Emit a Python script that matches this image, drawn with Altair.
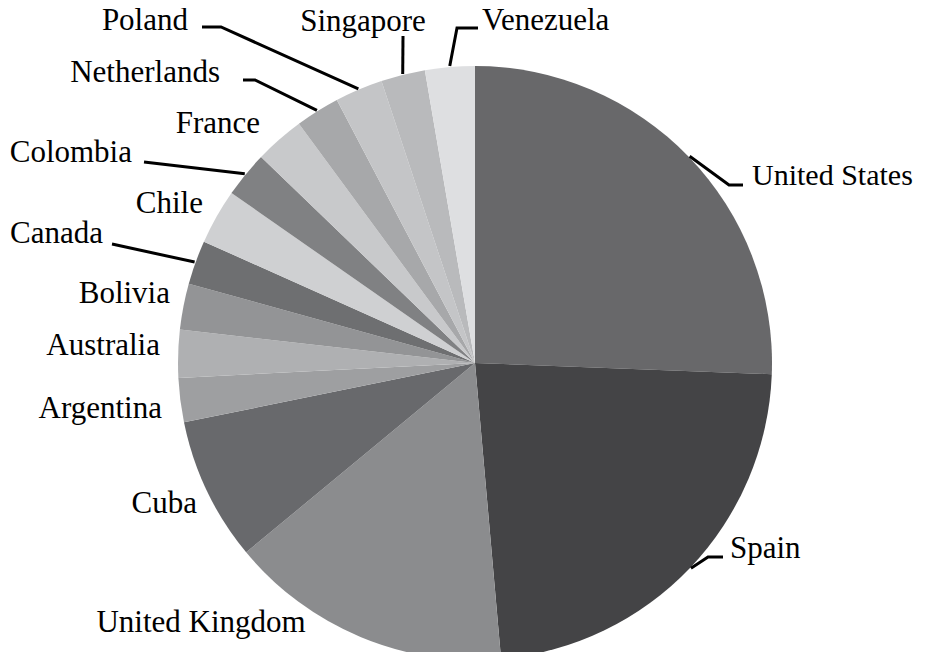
import altair as alt
import pandas as pd
import numpy as np

# ---- data ----
countries = ["United States", "Spain", "United Kingdom", "Cuba", "Argentina",
             "Australia", "Bolivia", "Canada", "Chile", "Colombia", "France",
             "Netherlands", "Poland", "Singapore", "Venezuela"]
values = [25.6, 23.0, 15.4, 7.8, 2.4, 2.6, 2.5, 2.4, 3.0, 2.5, 2.7, 2.4, 2.6, 2.4, 2.7]
colors = ["#68686a", "#444446", "#8b8c8e", "#68696c", "#9e9fa1",
          "#afb0b2", "#939496", "#6e6f71", "#cfd0d2", "#808183", "#c8c9cb",
          "#a7a8aa", "#c4c5c7", "#b9babc", "#dedfe1"]

# ---- layout (page pixel coordinates) ----
W, H = 911, 644
OFF = 8
CX, CY, R = 475, 363, 297
label_pos = {
    "United States": (752, 185, "left", 30),
    "Spain": (730, 558, "left", 31),
    "United Kingdom": (201, 632, "center", 31),
    "Cuba": (197, 513, "right", 31),
    "Argentina": (162, 418, "right", 31),
    "Australia": (160, 355, "right", 31),
    "Bolivia": (170, 303, "right", 31),
    "Canada": (103, 243, "right", 31),
    "Chile": (203, 213, "right", 31),
    "Colombia": (132, 162, "right", 31),
    "France": (260, 133, "right", 31),
    "Netherlands": (220, 82, "right", 31),
    "Poland": (188, 30, "right", 31),
    "Singapore": (363, 31, "center", 31),
    "Venezuela": (482, 30, "left", 31),
}
leader_bends = {
    "United States": [(729, 185), (743, 185)],
    "Spain": [(708, 557), (723, 557)],
    "Canada": [(112, 244)],
    "Colombia": [(144, 162)],
    "Netherlands": [(255, 80), (243, 80)],
    "Poland": [(221, 27), (202, 27)],
    "Singapore": [(403, 36)],
    "Venezuela": [(457, 28), (478, 28)],
}

df = pd.DataFrame({"country": countries, "value": values,
                   "ord": list(range(len(countries)))})

# leader lines: start on the rim at each slice's mid-angle
vals = np.array(values, dtype=float)
cum = np.cumsum(vals)
mid = (cum - vals / 2) / vals.sum() * 2 * np.pi
rows = []
for i, c in enumerate(countries):
    if c not in leader_bends:
        continue
    sx = CX + (R + 1) * np.sin(mid[i])
    sy = CY - (R + 1) * np.cos(mid[i])
    pts = [(sx, sy)] + leader_bends[c]
    for k, (px, py) in enumerate(pts):
        rows.append({"country": c, "seq": k, "x": px, "y": py})
lines_df = pd.DataFrame(rows)

lab_df = pd.DataFrame([{"country": c, "x": label_pos[c][0], "y": label_pos[c][1],
                        "align": label_pos[c][2], "fs": label_pos[c][3]} for c in countries])

xs = alt.Scale(domain=[OFF, OFF + W], nice=False, zero=False)
ys = alt.Scale(domain=[OFF, OFF + H], nice=False, zero=False, reverse=True)

pie = alt.Chart(df).mark_arc(outerRadius=R, stroke=None).encode(
    theta=alt.Theta("value:Q", stack=True),
    order=alt.Order("ord:Q", sort="ascending"),
    color=alt.Color("country:N", scale=alt.Scale(domain=countries, range=colors), legend=None),
    x=alt.value(CX - OFF),
    y=alt.value(CY - OFF),
)

lines = alt.Chart(lines_df).mark_line(color="black", strokeWidth=3, strokeCap="butt",
                                      strokeJoin="miter").encode(
    x=alt.X("x:Q", scale=xs, axis=None),
    y=alt.Y("y:Q", scale=ys, axis=None),
    detail="country:N",
    order="seq:Q",
)

def text_layer(al):
    sub = lab_df[lab_df["align"] == al]
    layers = []
    for fs in sorted(sub["fs"].unique()):
        layers.append(alt.Chart(sub[sub["fs"] == fs]).mark_text(
            align=al, baseline="alphabetic", font="Liberation Serif",
            fontSize=int(fs), color="black"
        ).encode(
            x=alt.X("x:Q", scale=xs, axis=None),
            y=alt.Y("y:Q", scale=ys, axis=None),
            text="country:N",
        ))
    return layers

chart = alt.layer(pie, lines, *text_layer("left"), *text_layer("center"),
                  *text_layer("right")).properties(
    width=W, height=H, padding=0, autosize=alt.AutoSizeParams(type="none"),
    background="white"
).configure_view(stroke=None)

chart.save("out.html", embed_options={"renderer": "svg", "actions": False})
